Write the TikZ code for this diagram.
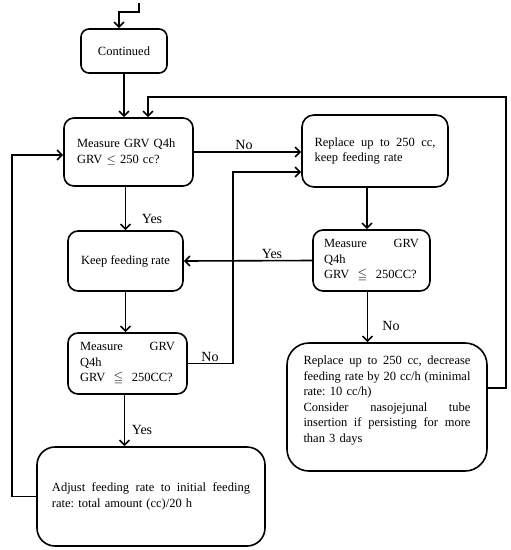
\documentclass[tikz,border=0pt]{standalone}
\usepackage{amssymb}
\usepackage{fontspec}
\setmainfont{Liberation Serif}
\usetikzlibrary{arrows.meta}
\newcommand{\jl}[1]{\leavevmode\hbox to \hsize{#1}}
\frenchspacing
\begin{document}
\begin{tikzpicture}[x=1pt,y=-1pt,
  box/.style={draw, line width=1.6pt, rounded corners=10pt, inner sep=0pt,
    font=\fontsize{12.5}{15.5}\selectfont\frenchspacing},
  arr/.style={line width=1.6pt, -{Straight Barb[length=5pt,width=10pt]}},
  lbl/.style={font=\fontsize{14}{16}\selectfont, inner sep=0pt}]
\useasboundingbox (0,0) rectangle (511,550);

% boxes
\node[box, rounded corners=8pt, minimum width=86pt, minimum height=44pt] (cont) at (124,51) {Continued};
\node[box, minimum width=129pt, minimum height=68pt, text width=103pt, align=left] (m1) at (128.5,152)
  {Measure GRV Q4h\\GRV $\leq$ 250 cc?};
\node[box, rounded corners=12pt, minimum width=146pt, minimum height=72pt, text width=121pt, align=left] (rep) at (375,151)
  {\jl{Replace\hfill up\hfill to\hfill 250\hfill cc,}\\keep feeding rate};
\node[box, minimum width=115pt, minimum height=60pt] (keep) at (125.5,261) {Keep feeding rate};
\node[box, minimum width=117pt, minimum height=61pt, text width=95pt, align=left] (m3) at (371.5,260.5)
  {\jl{Measure\hfill GRV}\\Q4h\\GRV\ \ $\leqq$\ \ 250CC?};
\node[box, minimum width=119pt, minimum height=61pt, text width=95pt, align=left] (m2) at (127.5,363.5)
  {\jl{Measure\hfill GRV}\\Q4h\\GRV\ \ $\leqq$\ \ 250CC?};
\node[box, rounded corners=22pt, minimum width=200pt, minimum height=128pt, text width=167pt, align=left] (dec) at (387,407)
  {\jl{Replace\hfill up\hfill to\hfill 250\hfill cc,\hfill decrease}\\
   \jl{feeding\hfill rate\hfill by\hfill 20\hfill cc/h\hfill (minimal}\\
   rate: 10 cc/h)\\
   \jl{Consider\hfill nasojejunal\hfill tube}\\
   \jl{insertion\hfill if\hfill persisting\hfill for\hfill more}\\
   than 3 days\\\mbox{}};
\node[box, rounded corners=18pt, minimum width=228pt, minimum height=99pt, text width=198pt, align=left] (adj) at (151,496.5)
  {\jl{Adjust\hfill feeding\hfill rate\hfill to\hfill initial\hfill feeding}\\rate: total amount (cc)/20 h};

% labels
\node[lbl] (no1) at (244,145) {No};
\node[lbl] (yes1) at (152,219) {Yes};
\node[lbl] (yes2) at (272,254) {Yes};
\node[lbl] (no2) at (210,357) {No};
\node[lbl] (no3) at (391,326) {No};
\node[lbl] (yes3) at (142,430) {Yes};

% connectors
\coordinate (s0) at (139,3);
\coordinate (s1) at (119,12);
\draw[arr] (s0) |- (s1) -- (s1 |- cont.north);
\draw[arr] (cont.south) -- (cont.south |- m1.north);
\draw[arr] (m1.east) -- (m1.east -| rep.west);
\draw[arr] (keep.north |- m1.south) -- (keep.north);
\coordinate (r1) at ([xshift=-8pt]rep.south);
\draw[arr] (r1) -- (r1 |- m3.north);
\draw[arr] (m3.west) -- (keep.east);
\draw[arr] (keep.south) -- (keep.south |- m2.north);
\coordinate (c2) at (233,172);
\draw[arr] (m2.east) -| (c2) -- (c2 -| rep.west);
\coordinate (r2) at ([xshift=-4pt]m3.south);
\draw[arr] (r2) -- (r2 |- dec.north);
\coordinate (r3) at ([xshift=-3pt]m2.south);
\draw[arr] (r3) -- (r3 |- adj.north);
\coordinate (c3) at (12,155);
\draw[arr] (adj.west) -| (c3) -- (c3 -| m1.west);
\coordinate (f0) at ([yshift=19pt]dec.east);
\coordinate (f1) at (506,97);
\coordinate (f2) at ([xshift=19.5pt]m1.north);
\draw[arr] (f0) -| (f1) -| (f2);
\end{tikzpicture}
\end{document}
